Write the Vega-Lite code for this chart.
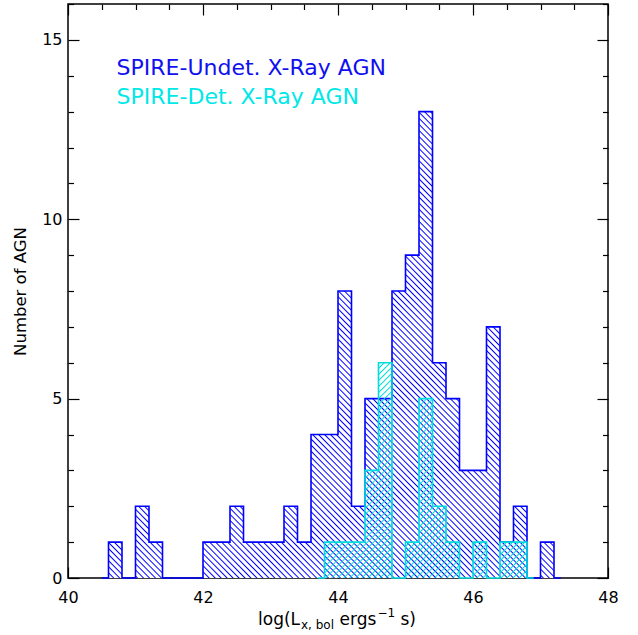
{
"$schema": "https://vega.github.io/schema/vega-lite/v6.json",
"width": 540,
"height": 574,
"autosize": "none",
"padding": {"left": 68, "top": 4, "right": 30, "bottom": 57},
"background": "white",
"config": {"view": {"stroke": "black", "strokeWidth": 1.5}, "font": "DejaVu Sans"},
"datasets": {
"undet": [
{"logL": 40.5, "n": 0}, {"logL": 40.6, "n": 1}, {"logL": 40.8, "n": 0}, {"logL": 41.0, "n": 2}, {"logL": 41.2, "n": 1},
{"logL": 41.4, "n": 0}, {"logL": 41.6, "n": 0}, {"logL": 41.8, "n": 0}, {"logL": 42.0, "n": 1}, {"logL": 42.2, "n": 1},
{"logL": 42.4, "n": 2}, {"logL": 42.6, "n": 1}, {"logL": 42.8, "n": 1}, {"logL": 43.0, "n": 1}, {"logL": 43.2, "n": 2},
{"logL": 43.4, "n": 1}, {"logL": 43.6, "n": 4}, {"logL": 43.8, "n": 4}, {"logL": 44.0, "n": 8}, {"logL": 44.2, "n": 2},
{"logL": 44.4, "n": 5}, {"logL": 44.6, "n": 5}, {"logL": 44.8, "n": 8}, {"logL": 45.0, "n": 9}, {"logL": 45.2, "n": 13},
{"logL": 45.4, "n": 6}, {"logL": 45.6, "n": 5}, {"logL": 45.8, "n": 3}, {"logL": 46.0, "n": 3}, {"logL": 46.2, "n": 7},
{"logL": 46.4, "n": 1}, {"logL": 46.6, "n": 2}, {"logL": 46.8, "n": 0}, {"logL": 47.0, "n": 1}, {"logL": 47.2, "n": 0},
{"logL": 47.3, "n": 0}
],
"det": [
{"logL": 43.7, "n": 0}, {"logL": 43.8, "n": 1}, {"logL": 44.0, "n": 1}, {"logL": 44.2, "n": 1}, {"logL": 44.4, "n": 3},
{"logL": 44.6, "n": 6}, {"logL": 44.8, "n": 0}, {"logL": 45.0, "n": 1}, {"logL": 45.2, "n": 5}, {"logL": 45.4, "n": 2},
{"logL": 45.6, "n": 1}, {"logL": 45.8, "n": 0}, {"logL": 46.0, "n": 1}, {"logL": 46.2, "n": 0}, {"logL": 46.4, "n": 1},
{"logL": 46.6, "n": 1}, {"logL": 46.8, "n": 0}, {"logL": 46.9, "n": 0}
]
},
"resolve": {"axis": {"x": "independent", "y": "independent"}},
"layer": [
{
"data": {"name": "undet"},
"mark": {"type": "area", "interpolate": "step-after", "opacity": 1, "strokeWidth": 0,
"fill": {"gradient": "linear", "x1": 0, "y1": 1, "x2": 1, "y2": 0, "stops": [
{"offset":0,"color":"#00f"},{"offset":0.0015,"color":"#fff"},{"offset":0.005,"color":"#fff"},
{"offset":0.0065,"color":"#00f"},{"offset":0.008,"color":"#fff"},{"offset":0.0115,"color":"#fff"},
{"offset":0.013,"color":"#00f"},{"offset":0.0145,"color":"#fff"},{"offset":0.018,"color":"#fff"},
{"offset":0.0195,"color":"#00f"},{"offset":0.021,"color":"#fff"},{"offset":0.0245,"color":"#fff"},
{"offset":0.026,"color":"#00f"},{"offset":0.0275,"color":"#fff"},{"offset":0.031,"color":"#fff"},
{"offset":0.0325,"color":"#00f"},{"offset":0.034,"color":"#fff"},{"offset":0.0375,"color":"#fff"},
{"offset":0.039,"color":"#00f"},{"offset":0.0405,"color":"#fff"},{"offset":0.044,"color":"#fff"},
{"offset":0.0455,"color":"#00f"},{"offset":0.047,"color":"#fff"},{"offset":0.0505,"color":"#fff"},
{"offset":0.052,"color":"#00f"},{"offset":0.0535,"color":"#fff"},{"offset":0.057,"color":"#fff"},
{"offset":0.0585,"color":"#00f"},{"offset":0.06,"color":"#fff"},{"offset":0.0635,"color":"#fff"},
{"offset":0.065,"color":"#00f"},{"offset":0.0665,"color":"#fff"},{"offset":0.07,"color":"#fff"},
{"offset":0.0715,"color":"#00f"},{"offset":0.073,"color":"#fff"},{"offset":0.0765,"color":"#fff"},
{"offset":0.078,"color":"#00f"},{"offset":0.0795,"color":"#fff"},{"offset":0.083,"color":"#fff"},
{"offset":0.0845,"color":"#00f"},{"offset":0.086,"color":"#fff"},{"offset":0.0895,"color":"#fff"},
{"offset":0.091,"color":"#00f"},{"offset":0.0925,"color":"#fff"},{"offset":0.096,"color":"#fff"},
{"offset":0.0975,"color":"#00f"},{"offset":0.099,"color":"#fff"},{"offset":0.1025,"color":"#fff"},
{"offset":0.104,"color":"#00f"},{"offset":0.1055,"color":"#fff"},{"offset":0.109,"color":"#fff"},
{"offset":0.1105,"color":"#00f"},{"offset":0.112,"color":"#fff"},{"offset":0.1155,"color":"#fff"},
{"offset":0.117,"color":"#00f"},{"offset":0.1185,"color":"#fff"},{"offset":0.122,"color":"#fff"},
{"offset":0.1235,"color":"#00f"},{"offset":0.125,"color":"#fff"},{"offset":0.1285,"color":"#fff"},
{"offset":0.13,"color":"#00f"},{"offset":0.1315,"color":"#fff"},{"offset":0.135,"color":"#fff"},
{"offset":0.1365,"color":"#00f"},{"offset":0.138,"color":"#fff"},{"offset":0.1415,"color":"#fff"},
{"offset":0.143,"color":"#00f"},{"offset":0.1445,"color":"#fff"},{"offset":0.148,"color":"#fff"},
{"offset":0.1495,"color":"#00f"},{"offset":0.151,"color":"#fff"},{"offset":0.1545,"color":"#fff"},
{"offset":0.156,"color":"#00f"},{"offset":0.1575,"color":"#fff"},{"offset":0.161,"color":"#fff"},
{"offset":0.1625,"color":"#00f"},{"offset":0.164,"color":"#fff"},{"offset":0.1675,"color":"#fff"},
{"offset":0.169,"color":"#00f"},{"offset":0.1705,"color":"#fff"},{"offset":0.174,"color":"#fff"},
{"offset":0.1755,"color":"#00f"},{"offset":0.177,"color":"#fff"},{"offset":0.1805,"color":"#fff"},
{"offset":0.182,"color":"#00f"},{"offset":0.1835,"color":"#fff"},{"offset":0.187,"color":"#fff"},
{"offset":0.1885,"color":"#00f"},{"offset":0.19,"color":"#fff"},{"offset":0.1935,"color":"#fff"},
{"offset":0.195,"color":"#00f"},{"offset":0.1965,"color":"#fff"},{"offset":0.2,"color":"#fff"},
{"offset":0.2015,"color":"#00f"},{"offset":0.203,"color":"#fff"},{"offset":0.2065,"color":"#fff"},
{"offset":0.208,"color":"#00f"},{"offset":0.2095,"color":"#fff"},{"offset":0.213,"color":"#fff"},
{"offset":0.2145,"color":"#00f"},{"offset":0.216,"color":"#fff"},{"offset":0.2195,"color":"#fff"},
{"offset":0.221,"color":"#00f"},{"offset":0.2225,"color":"#fff"},{"offset":0.226,"color":"#fff"},
{"offset":0.2275,"color":"#00f"},{"offset":0.229,"color":"#fff"},{"offset":0.2325,"color":"#fff"},
{"offset":0.234,"color":"#00f"},{"offset":0.2355,"color":"#fff"},{"offset":0.239,"color":"#fff"},
{"offset":0.2405,"color":"#00f"},{"offset":0.242,"color":"#fff"},{"offset":0.2455,"color":"#fff"},
{"offset":0.247,"color":"#00f"},{"offset":0.2485,"color":"#fff"},{"offset":0.252,"color":"#fff"},
{"offset":0.2535,"color":"#00f"},{"offset":0.255,"color":"#fff"},{"offset":0.2585,"color":"#fff"},
{"offset":0.26,"color":"#00f"},{"offset":0.2615,"color":"#fff"},{"offset":0.265,"color":"#fff"},
{"offset":0.2665,"color":"#00f"},{"offset":0.268,"color":"#fff"},{"offset":0.2715,"color":"#fff"},
{"offset":0.273,"color":"#00f"},{"offset":0.2745,"color":"#fff"},{"offset":0.278,"color":"#fff"},
{"offset":0.2795,"color":"#00f"},{"offset":0.281,"color":"#fff"},{"offset":0.2845,"color":"#fff"},
{"offset":0.286,"color":"#00f"},{"offset":0.2875,"color":"#fff"},{"offset":0.291,"color":"#fff"},
{"offset":0.2925,"color":"#00f"},{"offset":0.294,"color":"#fff"},{"offset":0.2975,"color":"#fff"},
{"offset":0.299,"color":"#00f"},{"offset":0.3005,"color":"#fff"},{"offset":0.304,"color":"#fff"},
{"offset":0.3055,"color":"#00f"},{"offset":0.307,"color":"#fff"},{"offset":0.3105,"color":"#fff"},
{"offset":0.312,"color":"#00f"},{"offset":0.3135,"color":"#fff"},{"offset":0.317,"color":"#fff"},
{"offset":0.3185,"color":"#00f"},{"offset":0.32,"color":"#fff"},{"offset":0.3235,"color":"#fff"},
{"offset":0.325,"color":"#00f"},{"offset":0.3265,"color":"#fff"},{"offset":0.33,"color":"#fff"},
{"offset":0.3315,"color":"#00f"},{"offset":0.333,"color":"#fff"},{"offset":0.3365,"color":"#fff"},
{"offset":0.338,"color":"#00f"},{"offset":0.3395,"color":"#fff"},{"offset":0.343,"color":"#fff"},
{"offset":0.3445,"color":"#00f"},{"offset":0.346,"color":"#fff"},{"offset":0.3495,"color":"#fff"},
{"offset":0.351,"color":"#00f"},{"offset":0.3525,"color":"#fff"},{"offset":0.356,"color":"#fff"},
{"offset":0.3575,"color":"#00f"},{"offset":0.359,"color":"#fff"},{"offset":0.3625,"color":"#fff"},
{"offset":0.364,"color":"#00f"},{"offset":0.3655,"color":"#fff"},{"offset":0.369,"color":"#fff"},
{"offset":0.3705,"color":"#00f"},{"offset":0.372,"color":"#fff"},{"offset":0.3755,"color":"#fff"},
{"offset":0.377,"color":"#00f"},{"offset":0.3785,"color":"#fff"},{"offset":0.382,"color":"#fff"},
{"offset":0.3835,"color":"#00f"},{"offset":0.385,"color":"#fff"},{"offset":0.3885,"color":"#fff"},
{"offset":0.39,"color":"#00f"},{"offset":0.3915,"color":"#fff"},{"offset":0.395,"color":"#fff"},
{"offset":0.3965,"color":"#00f"},{"offset":0.398,"color":"#fff"},{"offset":0.4015,"color":"#fff"},
{"offset":0.403,"color":"#00f"},{"offset":0.4045,"color":"#fff"},{"offset":0.408,"color":"#fff"},
{"offset":0.4095,"color":"#00f"},{"offset":0.411,"color":"#fff"},{"offset":0.4145,"color":"#fff"},
{"offset":0.416,"color":"#00f"},{"offset":0.4175,"color":"#fff"},{"offset":0.421,"color":"#fff"},
{"offset":0.4225,"color":"#00f"},{"offset":0.424,"color":"#fff"},{"offset":0.4275,"color":"#fff"},
{"offset":0.429,"color":"#00f"},{"offset":0.4305,"color":"#fff"},{"offset":0.434,"color":"#fff"},
{"offset":0.4355,"color":"#00f"},{"offset":0.437,"color":"#fff"},{"offset":0.4405,"color":"#fff"},
{"offset":0.442,"color":"#00f"},{"offset":0.4435,"color":"#fff"},{"offset":0.447,"color":"#fff"},
{"offset":0.4485,"color":"#00f"},{"offset":0.45,"color":"#fff"},{"offset":0.4535,"color":"#fff"},
{"offset":0.455,"color":"#00f"},{"offset":0.4565,"color":"#fff"},{"offset":0.46,"color":"#fff"},
{"offset":0.4615,"color":"#00f"},{"offset":0.463,"color":"#fff"},{"offset":0.4665,"color":"#fff"},
{"offset":0.468,"color":"#00f"},{"offset":0.4695,"color":"#fff"},{"offset":0.473,"color":"#fff"},
{"offset":0.4745,"color":"#00f"},{"offset":0.476,"color":"#fff"},{"offset":0.4795,"color":"#fff"},
{"offset":0.481,"color":"#00f"},{"offset":0.4825,"color":"#fff"},{"offset":0.486,"color":"#fff"},
{"offset":0.4875,"color":"#00f"},{"offset":0.489,"color":"#fff"},{"offset":0.4925,"color":"#fff"},
{"offset":0.494,"color":"#00f"},{"offset":0.4955,"color":"#fff"},{"offset":0.499,"color":"#fff"},
{"offset":0.5005,"color":"#00f"},{"offset":0.502,"color":"#fff"},{"offset":0.5055,"color":"#fff"},
{"offset":0.507,"color":"#00f"},{"offset":0.5085,"color":"#fff"},{"offset":0.512,"color":"#fff"},
{"offset":0.5135,"color":"#00f"},{"offset":0.515,"color":"#fff"},{"offset":0.5185,"color":"#fff"},
{"offset":0.52,"color":"#00f"},{"offset":0.5215,"color":"#fff"},{"offset":0.525,"color":"#fff"},
{"offset":0.5265,"color":"#00f"},{"offset":0.528,"color":"#fff"},{"offset":0.5315,"color":"#fff"},
{"offset":0.533,"color":"#00f"},{"offset":0.5345,"color":"#fff"},{"offset":0.538,"color":"#fff"},
{"offset":0.5395,"color":"#00f"},{"offset":0.541,"color":"#fff"},{"offset":0.5445,"color":"#fff"},
{"offset":0.546,"color":"#00f"},{"offset":0.5475,"color":"#fff"},{"offset":0.551,"color":"#fff"},
{"offset":0.5525,"color":"#00f"},{"offset":0.554,"color":"#fff"},{"offset":0.5575,"color":"#fff"},
{"offset":0.559,"color":"#00f"},{"offset":0.5605,"color":"#fff"},{"offset":0.564,"color":"#fff"},
{"offset":0.5655,"color":"#00f"},{"offset":0.567,"color":"#fff"},{"offset":0.5705,"color":"#fff"},
{"offset":0.572,"color":"#00f"},{"offset":0.5735,"color":"#fff"},{"offset":0.577,"color":"#fff"},
{"offset":0.5785,"color":"#00f"},{"offset":0.58,"color":"#fff"},{"offset":0.5835,"color":"#fff"},
{"offset":0.585,"color":"#00f"},{"offset":0.5865,"color":"#fff"},{"offset":0.59,"color":"#fff"},
{"offset":0.5915,"color":"#00f"},{"offset":0.593,"color":"#fff"},{"offset":0.5965,"color":"#fff"},
{"offset":0.598,"color":"#00f"},{"offset":0.5995,"color":"#fff"},{"offset":0.603,"color":"#fff"},
{"offset":0.6045,"color":"#00f"},{"offset":0.606,"color":"#fff"},{"offset":0.6095,"color":"#fff"},
{"offset":0.611,"color":"#00f"},{"offset":0.6125,"color":"#fff"},{"offset":0.616,"color":"#fff"},
{"offset":0.6175,"color":"#00f"},{"offset":0.619,"color":"#fff"},{"offset":0.6225,"color":"#fff"},
{"offset":0.624,"color":"#00f"},{"offset":0.6255,"color":"#fff"},{"offset":0.629,"color":"#fff"},
{"offset":0.6305,"color":"#00f"},{"offset":0.632,"color":"#fff"},{"offset":0.6355,"color":"#fff"},
{"offset":0.637,"color":"#00f"},{"offset":0.6385,"color":"#fff"},{"offset":0.642,"color":"#fff"},
{"offset":0.6435,"color":"#00f"},{"offset":0.645,"color":"#fff"},{"offset":0.6485,"color":"#fff"},
{"offset":0.65,"color":"#00f"},{"offset":0.6515,"color":"#fff"},{"offset":0.655,"color":"#fff"},
{"offset":0.6565,"color":"#00f"},{"offset":0.658,"color":"#fff"},{"offset":0.6615,"color":"#fff"},
{"offset":0.663,"color":"#00f"},{"offset":0.6645,"color":"#fff"},{"offset":0.668,"color":"#fff"},
{"offset":0.6695,"color":"#00f"},{"offset":0.671,"color":"#fff"},{"offset":0.6745,"color":"#fff"},
{"offset":0.676,"color":"#00f"},{"offset":0.6775,"color":"#fff"},{"offset":0.681,"color":"#fff"},
{"offset":0.6825,"color":"#00f"},{"offset":0.684,"color":"#fff"},{"offset":0.6875,"color":"#fff"},
{"offset":0.689,"color":"#00f"},{"offset":0.6905,"color":"#fff"},{"offset":0.694,"color":"#fff"},
{"offset":0.6955,"color":"#00f"},{"offset":0.697,"color":"#fff"},{"offset":0.7005,"color":"#fff"},
{"offset":0.702,"color":"#00f"},{"offset":0.7035,"color":"#fff"},{"offset":0.707,"color":"#fff"},
{"offset":0.7085,"color":"#00f"},{"offset":0.71,"color":"#fff"},{"offset":0.7135,"color":"#fff"},
{"offset":0.715,"color":"#00f"},{"offset":0.7165,"color":"#fff"},{"offset":0.72,"color":"#fff"},
{"offset":0.7215,"color":"#00f"},{"offset":0.723,"color":"#fff"},{"offset":0.7265,"color":"#fff"},
{"offset":0.728,"color":"#00f"},{"offset":0.7295,"color":"#fff"},{"offset":0.733,"color":"#fff"},
{"offset":0.7345,"color":"#00f"},{"offset":0.736,"color":"#fff"},{"offset":0.7395,"color":"#fff"},
{"offset":0.741,"color":"#00f"},{"offset":0.7425,"color":"#fff"},{"offset":0.746,"color":"#fff"},
{"offset":0.7475,"color":"#00f"},{"offset":0.749,"color":"#fff"},{"offset":0.7525,"color":"#fff"},
{"offset":0.754,"color":"#00f"},{"offset":0.7555,"color":"#fff"},{"offset":0.759,"color":"#fff"},
{"offset":0.7605,"color":"#00f"},{"offset":0.762,"color":"#fff"},{"offset":0.7655,"color":"#fff"},
{"offset":0.767,"color":"#00f"},{"offset":0.7685,"color":"#fff"},{"offset":0.772,"color":"#fff"},
{"offset":0.7735,"color":"#00f"},{"offset":0.775,"color":"#fff"},{"offset":0.7785,"color":"#fff"},
{"offset":0.78,"color":"#00f"},{"offset":0.7815,"color":"#fff"},{"offset":0.785,"color":"#fff"},
{"offset":0.7865,"color":"#00f"},{"offset":0.788,"color":"#fff"},{"offset":0.7915,"color":"#fff"},
{"offset":0.793,"color":"#00f"},{"offset":0.7945,"color":"#fff"},{"offset":0.798,"color":"#fff"},
{"offset":0.7995,"color":"#00f"},{"offset":0.801,"color":"#fff"},{"offset":0.8045,"color":"#fff"},
{"offset":0.806,"color":"#00f"},{"offset":0.8075,"color":"#fff"},{"offset":0.811,"color":"#fff"},
{"offset":0.8125,"color":"#00f"},{"offset":0.814,"color":"#fff"},{"offset":0.8175,"color":"#fff"},
{"offset":0.819,"color":"#00f"},{"offset":0.8205,"color":"#fff"},{"offset":0.824,"color":"#fff"},
{"offset":0.8255,"color":"#00f"},{"offset":0.827,"color":"#fff"},{"offset":0.8305,"color":"#fff"},
{"offset":0.832,"color":"#00f"},{"offset":0.8335,"color":"#fff"},{"offset":0.837,"color":"#fff"},
{"offset":0.8385,"color":"#00f"},{"offset":0.84,"color":"#fff"},{"offset":0.8435,"color":"#fff"},
{"offset":0.845,"color":"#00f"},{"offset":0.8465,"color":"#fff"},{"offset":0.85,"color":"#fff"},
{"offset":0.8515,"color":"#00f"},{"offset":0.853,"color":"#fff"},{"offset":0.8565,"color":"#fff"},
{"offset":0.858,"color":"#00f"},{"offset":0.8595,"color":"#fff"},{"offset":0.863,"color":"#fff"},
{"offset":0.8645,"color":"#00f"},{"offset":0.866,"color":"#fff"},{"offset":0.8695,"color":"#fff"},
{"offset":0.871,"color":"#00f"},{"offset":0.8725,"color":"#fff"},{"offset":0.876,"color":"#fff"},
{"offset":0.8775,"color":"#00f"},{"offset":0.879,"color":"#fff"},{"offset":0.8825,"color":"#fff"},
{"offset":0.884,"color":"#00f"},{"offset":0.8855,"color":"#fff"},{"offset":0.889,"color":"#fff"},
{"offset":0.8905,"color":"#00f"},{"offset":0.892,"color":"#fff"},{"offset":0.8955,"color":"#fff"},
{"offset":0.897,"color":"#00f"},{"offset":0.8985,"color":"#fff"},{"offset":0.902,"color":"#fff"},
{"offset":0.9035,"color":"#00f"},{"offset":0.905,"color":"#fff"},{"offset":0.9085,"color":"#fff"},
{"offset":0.91,"color":"#00f"},{"offset":0.9115,"color":"#fff"},{"offset":0.915,"color":"#fff"},
{"offset":0.9165,"color":"#00f"},{"offset":0.918,"color":"#fff"},{"offset":0.9215,"color":"#fff"},
{"offset":0.923,"color":"#00f"},{"offset":0.9245,"color":"#fff"},{"offset":0.928,"color":"#fff"},
{"offset":0.9295,"color":"#00f"},{"offset":0.931,"color":"#fff"},{"offset":0.9345,"color":"#fff"},
{"offset":0.936,"color":"#00f"},{"offset":0.9375,"color":"#fff"},{"offset":0.941,"color":"#fff"},
{"offset":0.9425,"color":"#00f"},{"offset":0.944,"color":"#fff"},{"offset":0.9475,"color":"#fff"},
{"offset":0.949,"color":"#00f"},{"offset":0.9505,"color":"#fff"},{"offset":0.954,"color":"#fff"},
{"offset":0.9555,"color":"#00f"},{"offset":0.957,"color":"#fff"},{"offset":0.9605,"color":"#fff"},
{"offset":0.962,"color":"#00f"},{"offset":0.9635,"color":"#fff"},{"offset":0.967,"color":"#fff"},
{"offset":0.9685,"color":"#00f"},{"offset":0.97,"color":"#fff"},{"offset":0.9735,"color":"#fff"},
{"offset":0.975,"color":"#00f"},{"offset":0.9765,"color":"#fff"},{"offset":0.98,"color":"#fff"},
{"offset":0.9815,"color":"#00f"},{"offset":0.983,"color":"#fff"},{"offset":0.9865,"color":"#fff"},
{"offset":0.988,"color":"#00f"},{"offset":0.9895,"color":"#fff"},{"offset":0.993,"color":"#fff"},
{"offset":0.9945,"color":"#00f"},{"offset":0.996,"color":"#fff"},{"offset":1,"color":"#fff"}
]}},
"encoding": {
"x": {"field": "logL", "type": "quantitative", "scale": {"domain": [40, 48], "nice": false, "zero": false},
"axis": {"orient": "bottom", "values": [40,40.5,41,41.5,42,42.5,43,43.5,44,44.5,45,45.5,46,46.5,47,47.5,48],
"tickSize": {"condition": {"test": "datum.value % 2 === 0", "value": -11}, "value": -5.5},
"format": "d",
"labelExpr": "datum.value % 2 === 0 ? datum.label : ''", "domain": false, "grid": false, "title": null,
"tickColor": "black", "tickWidth": 1.2, "labelFont": "DejaVu Sans", "labelFontSize": 16, "labelColor": "black",
"labelPadding": 22, "labelFlush": false, "labelOverlap": false, "labelBound": false}},
"y": {"field": "n", "type": "quantitative", "scale": {"domain": [0, 16], "nice": false},
"axis": {"orient": "left", "values": [0,1,2,3,4,5,6,7,8,9,10,11,12,13,14,15,16],
"tickSize": {"condition": {"test": "datum.value % 5 === 0", "value": -11}, "value": -5.5},
"format": "d",
"labelExpr": "datum.value % 5 === 0 ? datum.label : ''", "domain": false, "grid": false,
"title": "Number of AGN", "titleFont": "DejaVu Sans", "titleFontSize": 16.5, "titleFontWeight": "normal", "titleColor": "black",
"titlePadding": 13, "tickColor": "black", "tickWidth": 1.2, "labelFont": "DejaVu Sans", "labelFontSize": 16, "labelColor": "black",
"labelPadding": 17, "labelFlush": false, "labelOverlap": false, "labelBound": false}}
}
},
{
"data": {"name": "undet"},
"mark": {"type": "line", "interpolate": "step-after", "color": "#0000ff", "strokeWidth": 1.6},
"encoding": {
"x": {"field": "logL", "type": "quantitative", "scale": {"domain": [40, 48], "nice": false, "zero": false}, "axis": null},
"y": {"field": "n", "type": "quantitative", "scale": {"domain": [0, 16], "nice": false}, "axis": null}
}
},
{
"data": {"name": "det"},
"mark": {"type": "area", "interpolate": "step-after", "opacity": 1, "strokeWidth": 0,
"fill": {"gradient": "linear", "x1": 0, "y1": 0, "x2": 1, "y2": 1, "stops": [
{"offset":0,"color":"#0dd"},{"offset":0.0032,"color":"#0dd0"},{"offset":0.0108,"color":"#0dd0"},
{"offset":0.014,"color":"#0dd"},{"offset":0.0172,"color":"#0dd0"},{"offset":0.0248,"color":"#0dd0"},
{"offset":0.028,"color":"#0dd"},{"offset":0.0312,"color":"#0dd0"},{"offset":0.0388,"color":"#0dd0"},
{"offset":0.042,"color":"#0dd"},{"offset":0.0452,"color":"#0dd0"},{"offset":0.0528,"color":"#0dd0"},
{"offset":0.056,"color":"#0dd"},{"offset":0.0592,"color":"#0dd0"},{"offset":0.0668,"color":"#0dd0"},
{"offset":0.07,"color":"#0dd"},{"offset":0.0732,"color":"#0dd0"},{"offset":0.0808,"color":"#0dd0"},
{"offset":0.084,"color":"#0dd"},{"offset":0.0872,"color":"#0dd0"},{"offset":0.0948,"color":"#0dd0"},
{"offset":0.098,"color":"#0dd"},{"offset":0.1012,"color":"#0dd0"},{"offset":0.1088,"color":"#0dd0"},
{"offset":0.112,"color":"#0dd"},{"offset":0.1152,"color":"#0dd0"},{"offset":0.1228,"color":"#0dd0"},
{"offset":0.126,"color":"#0dd"},{"offset":0.1292,"color":"#0dd0"},{"offset":0.1368,"color":"#0dd0"},
{"offset":0.14,"color":"#0dd"},{"offset":0.1432,"color":"#0dd0"},{"offset":0.1508,"color":"#0dd0"},
{"offset":0.154,"color":"#0dd"},{"offset":0.1572,"color":"#0dd0"},{"offset":0.1648,"color":"#0dd0"},
{"offset":0.168,"color":"#0dd"},{"offset":0.1712,"color":"#0dd0"},{"offset":0.1788,"color":"#0dd0"},
{"offset":0.182,"color":"#0dd"},{"offset":0.1852,"color":"#0dd0"},{"offset":0.1928,"color":"#0dd0"},
{"offset":0.196,"color":"#0dd"},{"offset":0.1992,"color":"#0dd0"},{"offset":0.2068,"color":"#0dd0"},
{"offset":0.21,"color":"#0dd"},{"offset":0.2132,"color":"#0dd0"},{"offset":0.2208,"color":"#0dd0"},
{"offset":0.224,"color":"#0dd"},{"offset":0.2272,"color":"#0dd0"},{"offset":0.2348,"color":"#0dd0"},
{"offset":0.238,"color":"#0dd"},{"offset":0.2412,"color":"#0dd0"},{"offset":0.2488,"color":"#0dd0"},
{"offset":0.252,"color":"#0dd"},{"offset":0.2552,"color":"#0dd0"},{"offset":0.2628,"color":"#0dd0"},
{"offset":0.266,"color":"#0dd"},{"offset":0.2692,"color":"#0dd0"},{"offset":0.2768,"color":"#0dd0"},
{"offset":0.28,"color":"#0dd"},{"offset":0.2832,"color":"#0dd0"},{"offset":0.2908,"color":"#0dd0"},
{"offset":0.294,"color":"#0dd"},{"offset":0.2972,"color":"#0dd0"},{"offset":0.3048,"color":"#0dd0"},
{"offset":0.308,"color":"#0dd"},{"offset":0.3112,"color":"#0dd0"},{"offset":0.3188,"color":"#0dd0"},
{"offset":0.322,"color":"#0dd"},{"offset":0.3252,"color":"#0dd0"},{"offset":0.3328,"color":"#0dd0"},
{"offset":0.336,"color":"#0dd"},{"offset":0.3392,"color":"#0dd0"},{"offset":0.3468,"color":"#0dd0"},
{"offset":0.35,"color":"#0dd"},{"offset":0.3532,"color":"#0dd0"},{"offset":0.3608,"color":"#0dd0"},
{"offset":0.364,"color":"#0dd"},{"offset":0.3672,"color":"#0dd0"},{"offset":0.3748,"color":"#0dd0"},
{"offset":0.378,"color":"#0dd"},{"offset":0.3812,"color":"#0dd0"},{"offset":0.3888,"color":"#0dd0"},
{"offset":0.392,"color":"#0dd"},{"offset":0.3952,"color":"#0dd0"},{"offset":0.4028,"color":"#0dd0"},
{"offset":0.406,"color":"#0dd"},{"offset":0.4092,"color":"#0dd0"},{"offset":0.4168,"color":"#0dd0"},
{"offset":0.42,"color":"#0dd"},{"offset":0.4232,"color":"#0dd0"},{"offset":0.4308,"color":"#0dd0"},
{"offset":0.434,"color":"#0dd"},{"offset":0.4372,"color":"#0dd0"},{"offset":0.4448,"color":"#0dd0"},
{"offset":0.448,"color":"#0dd"},{"offset":0.4512,"color":"#0dd0"},{"offset":0.4588,"color":"#0dd0"},
{"offset":0.462,"color":"#0dd"},{"offset":0.4652,"color":"#0dd0"},{"offset":0.4728,"color":"#0dd0"},
{"offset":0.476,"color":"#0dd"},{"offset":0.4792,"color":"#0dd0"},{"offset":0.4868,"color":"#0dd0"},
{"offset":0.49,"color":"#0dd"},{"offset":0.4932,"color":"#0dd0"},{"offset":0.5008,"color":"#0dd0"},
{"offset":0.504,"color":"#0dd"},{"offset":0.5072,"color":"#0dd0"},{"offset":0.5148,"color":"#0dd0"},
{"offset":0.518,"color":"#0dd"},{"offset":0.5212,"color":"#0dd0"},{"offset":0.5288,"color":"#0dd0"},
{"offset":0.532,"color":"#0dd"},{"offset":0.5352,"color":"#0dd0"},{"offset":0.5428,"color":"#0dd0"},
{"offset":0.546,"color":"#0dd"},{"offset":0.5492,"color":"#0dd0"},{"offset":0.5568,"color":"#0dd0"},
{"offset":0.56,"color":"#0dd"},{"offset":0.5632,"color":"#0dd0"},{"offset":0.5708,"color":"#0dd0"},
{"offset":0.574,"color":"#0dd"},{"offset":0.5772,"color":"#0dd0"},{"offset":0.5848,"color":"#0dd0"},
{"offset":0.588,"color":"#0dd"},{"offset":0.5912,"color":"#0dd0"},{"offset":0.5988,"color":"#0dd0"},
{"offset":0.602,"color":"#0dd"},{"offset":0.6052,"color":"#0dd0"},{"offset":0.6128,"color":"#0dd0"},
{"offset":0.616,"color":"#0dd"},{"offset":0.6192,"color":"#0dd0"},{"offset":0.6268,"color":"#0dd0"},
{"offset":0.63,"color":"#0dd"},{"offset":0.6332,"color":"#0dd0"},{"offset":0.6408,"color":"#0dd0"},
{"offset":0.644,"color":"#0dd"},{"offset":0.6472,"color":"#0dd0"},{"offset":0.6548,"color":"#0dd0"},
{"offset":0.658,"color":"#0dd"},{"offset":0.6612,"color":"#0dd0"},{"offset":0.6688,"color":"#0dd0"},
{"offset":0.672,"color":"#0dd"},{"offset":0.6752,"color":"#0dd0"},{"offset":0.6828,"color":"#0dd0"},
{"offset":0.686,"color":"#0dd"},{"offset":0.6892,"color":"#0dd0"},{"offset":0.6968,"color":"#0dd0"},
{"offset":0.7,"color":"#0dd"},{"offset":0.7032,"color":"#0dd0"},{"offset":0.7108,"color":"#0dd0"},
{"offset":0.714,"color":"#0dd"},{"offset":0.7172,"color":"#0dd0"},{"offset":0.7248,"color":"#0dd0"},
{"offset":0.728,"color":"#0dd"},{"offset":0.7312,"color":"#0dd0"},{"offset":0.7388,"color":"#0dd0"},
{"offset":0.742,"color":"#0dd"},{"offset":0.7452,"color":"#0dd0"},{"offset":0.7528,"color":"#0dd0"},
{"offset":0.756,"color":"#0dd"},{"offset":0.7592,"color":"#0dd0"},{"offset":0.7668,"color":"#0dd0"},
{"offset":0.77,"color":"#0dd"},{"offset":0.7732,"color":"#0dd0"},{"offset":0.7808,"color":"#0dd0"},
{"offset":0.784,"color":"#0dd"},{"offset":0.7872,"color":"#0dd0"},{"offset":0.7948,"color":"#0dd0"},
{"offset":0.798,"color":"#0dd"},{"offset":0.8012,"color":"#0dd0"},{"offset":0.8088,"color":"#0dd0"},
{"offset":0.812,"color":"#0dd"},{"offset":0.8152,"color":"#0dd0"},{"offset":0.8228,"color":"#0dd0"},
{"offset":0.826,"color":"#0dd"},{"offset":0.8292,"color":"#0dd0"},{"offset":0.8368,"color":"#0dd0"},
{"offset":0.84,"color":"#0dd"},{"offset":0.8432,"color":"#0dd0"},{"offset":0.8508,"color":"#0dd0"},
{"offset":0.854,"color":"#0dd"},{"offset":0.8572,"color":"#0dd0"},{"offset":0.8648,"color":"#0dd0"},
{"offset":0.868,"color":"#0dd"},{"offset":0.8712,"color":"#0dd0"},{"offset":0.8788,"color":"#0dd0"},
{"offset":0.882,"color":"#0dd"},{"offset":0.8852,"color":"#0dd0"},{"offset":0.8928,"color":"#0dd0"},
{"offset":0.896,"color":"#0dd"},{"offset":0.8992,"color":"#0dd0"},{"offset":0.9068,"color":"#0dd0"},
{"offset":0.91,"color":"#0dd"},{"offset":0.9132,"color":"#0dd0"},{"offset":0.9208,"color":"#0dd0"},
{"offset":0.924,"color":"#0dd"},{"offset":0.9272,"color":"#0dd0"},{"offset":0.9348,"color":"#0dd0"},
{"offset":0.938,"color":"#0dd"},{"offset":0.9412,"color":"#0dd0"},{"offset":0.9488,"color":"#0dd0"},
{"offset":0.952,"color":"#0dd"},{"offset":0.9552,"color":"#0dd0"},{"offset":0.9628,"color":"#0dd0"},
{"offset":0.966,"color":"#0dd"},{"offset":0.9692,"color":"#0dd0"},{"offset":0.9768,"color":"#0dd0"},
{"offset":0.98,"color":"#0dd"},{"offset":0.9832,"color":"#0dd0"},{"offset":0.9908,"color":"#0dd0"},
{"offset":0.994,"color":"#0dd"},{"offset":0.9972,"color":"#0dd0"},{"offset":1,"color":"#0dd0"}
]}},
"encoding": {
"x": {"field": "logL", "type": "quantitative", "scale": {"domain": [40, 48], "nice": false, "zero": false},
"axis": {"orient": "top", "values": [40,40.5,41,41.5,42,42.5,43,43.5,44,44.5,45,45.5,46,46.5,47,47.5,48],
"tickSize": {"condition": {"test": "datum.value % 2 === 0", "value": -11}, "value": -5.5},
"labels": false, "domain": false, "grid": false, "title": null, "tickColor": "black", "tickWidth": 1.2}},
"y": {"field": "n", "type": "quantitative", "scale": {"domain": [0, 16], "nice": false},
"axis": {"orient": "right", "values": [0,1,2,3,4,5,6,7,8,9,10,11,12,13,14,15,16],
"tickSize": {"condition": {"test": "datum.value % 5 === 0", "value": -11}, "value": -5.5},
"labels": false, "domain": false, "grid": false, "title": null, "tickColor": "black", "tickWidth": 1.2}}
}
},
{
"data": {"name": "det"},
"mark": {"type": "line", "interpolate": "step-after", "color": "#00dddd", "strokeWidth": 1.6},
"encoding": {
"x": {"field": "logL", "type": "quantitative", "scale": {"domain": [40, 48], "nice": false, "zero": false}, "axis": null},
"y": {"field": "n", "type": "quantitative", "scale": {"domain": [0, 16], "nice": false}, "axis": null}
}
},
{
"data": {"values": [{"label": "SPIRE-Undet. X-Ray AGN"}]},
"mark": {"type": "text", "align": "left", "baseline": "alphabetic", "font": "DejaVu Sans", "fontSize": 22, "color": "#1010f0"},
"encoding": {
"x": {"datum": 40.72, "type": "quantitative", "scale": {"domain": [40, 48], "nice": false, "zero": false}, "axis": null},
"y": {"datum": 14.02, "type": "quantitative", "scale": {"domain": [0, 16], "nice": false}, "axis": null},
"text": {"field": "label"}
}
},
{
"data": {"values": [{"label": "SPIRE-Det. X-Ray AGN"}]},
"mark": {"type": "text", "align": "left", "baseline": "alphabetic", "font": "DejaVu Sans", "fontSize": 22, "color": "#00e8e8"},
"encoding": {
"x": {"datum": 40.72, "type": "quantitative", "scale": {"domain": [40, 48], "nice": false, "zero": false}, "axis": null},
"y": {"datum": 13.21, "type": "quantitative", "scale": {"domain": [0, 16], "nice": false}, "axis": null},
"text": {"field": "label"}
}
},
{
"data": {"values": [{"label": "log(L"}]},
"mark": {"type": "text", "align": "left", "baseline": "alphabetic", "font": "DejaVu Sans", "fontSize": 17, "color": "black", "dy": 47},
"encoding": {
"x": {"datum": 42.815, "type": "quantitative", "scale": {"domain": [40, 48], "nice": false, "zero": false}, "axis": null},
"y": {"datum": 0, "type": "quantitative", "scale": {"domain": [0, 16], "nice": false}, "axis": null},
"text": {"field": "label"}
}
},
{
"data": {"values": [{"label": "x, bol"}]},
"mark": {"type": "text", "align": "left", "baseline": "alphabetic", "font": "DejaVu Sans", "fontSize": 12, "color": "black", "dy": 51},
"encoding": {
"x": {"datum": 43.452, "type": "quantitative", "scale": {"domain": [40, 48], "nice": false, "zero": false}, "axis": null},
"y": {"datum": 0, "type": "quantitative", "scale": {"domain": [0, 16], "nice": false}, "axis": null},
"text": {"field": "label"}
}
},
{
"data": {"values": [{"label": "ergs"}]},
"mark": {"type": "text", "align": "left", "baseline": "alphabetic", "font": "DejaVu Sans", "fontSize": 17, "color": "black", "dy": 47},
"encoding": {
"x": {"datum": 44.022, "type": "quantitative", "scale": {"domain": [40, 48], "nice": false, "zero": false}, "axis": null},
"y": {"datum": 0, "type": "quantitative", "scale": {"domain": [0, 16], "nice": false}, "axis": null},
"text": {"field": "label"}
}
},
{
"data": {"values": [{"label": "−1"}]},
"mark": {"type": "text", "align": "left", "baseline": "alphabetic", "font": "DejaVu Sans", "fontSize": 12, "color": "black", "dy": 39},
"encoding": {
"x": {"datum": 44.585, "type": "quantitative", "scale": {"domain": [40, 48], "nice": false, "zero": false}, "axis": null},
"y": {"datum": 0, "type": "quantitative", "scale": {"domain": [0, 16], "nice": false}, "axis": null},
"text": {"field": "label"}
}
},
{
"data": {"values": [{"label": "s)"}]},
"mark": {"type": "text", "align": "left", "baseline": "alphabetic", "font": "DejaVu Sans", "fontSize": 17, "color": "black", "dy": 47},
"encoding": {
"x": {"datum": 44.926, "type": "quantitative", "scale": {"domain": [40, 48], "nice": false, "zero": false}, "axis": null},
"y": {"datum": 0, "type": "quantitative", "scale": {"domain": [0, 16], "nice": false}, "axis": null},
"text": {"field": "label"}
}
}
]
}
